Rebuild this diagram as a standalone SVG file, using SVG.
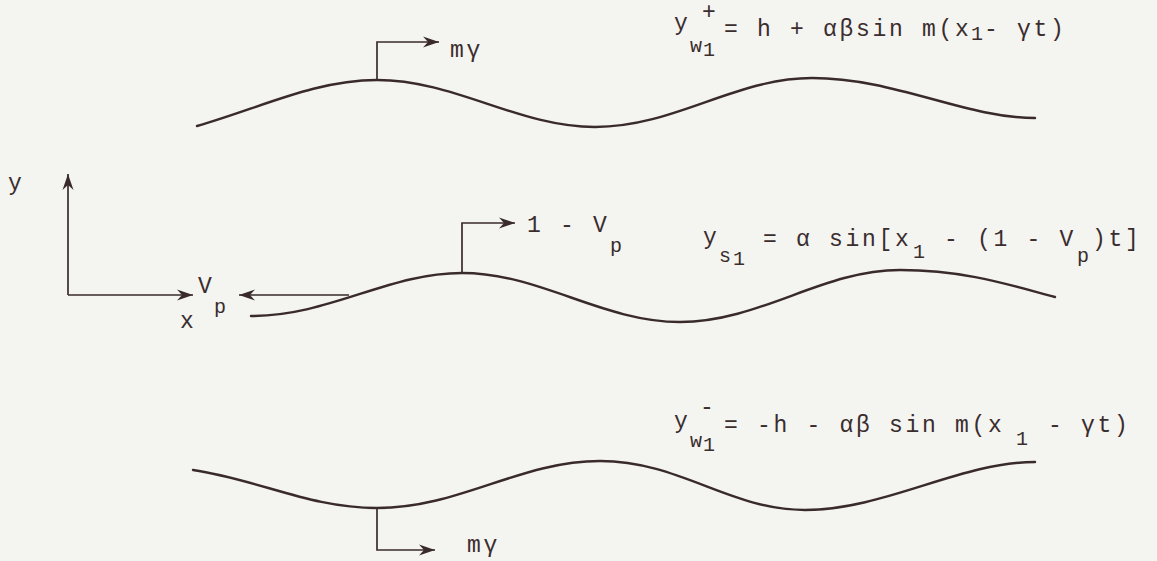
<svg xmlns="http://www.w3.org/2000/svg" width="1157" height="561" viewBox="0 0 1157 561">
<defs>
<marker id="ah" markerUnits="userSpaceOnUse" markerWidth="20" markerHeight="14" refX="16" refY="7" orient="auto">
<path d="M0,1.5 L16,7 L0,12.5 L5,7 Z" fill="#3a2b2b"/>
</marker>
<style>
.t{font-family:"Liberation Mono","Courier New",monospace;font-size:23px;letter-spacing:2.7px;fill:#3a2d2d}
.s{font-family:"Liberation Mono","Courier New",monospace;font-size:20px;fill:#3a2d2d}
.w{fill:none;stroke:#3a2b2b;stroke-width:2.4;stroke-linecap:round}
.a{fill:none;stroke:#3a2b2b;stroke-width:1.7}
</style>
</defs>
<rect width="1157" height="561" fill="#f4f4f1"/>
<g id="connectors">
<path class="a" d="M68,295 V174" marker-end="url(#ah)"/>
<path class="a" d="M68,295 H193" marker-end="url(#ah)"/>
<path class="a" d="M349,295 H239" marker-end="url(#ah)"/>
<path class="a" d="M377,80 V42 H439" marker-end="url(#ah)"/>
<path class="a" d="M462,273 V223 H515" marker-end="url(#ah)"/>
<path class="a" d="M377,508 V550 H435" marker-end="url(#ah)"/>
</g>
<g id="wave-top">
<path class="w" d="M197,126 C260,108 315,80 377,80 C455,80 518,127 595,127 C675,127 735,78 812,78 C895,78 965,118 1035,118"/>
<text class="t" x="450" y="57">mγ</text>
</g>
<g id="wave-mid">
<path class="w" d="M251,316 C330,316 388,273 462,273 C540,273 602,322 680,322 C760,322 822,270 900,270 C965,270 1010,285 1055,297"/>
<text class="t" x="527" y="232">1 - V</text>
<text class="s" x="610" y="252">p</text>
</g>
<g id="wave-bot">
<path class="w" d="M193,470 C260,480 310,508 377,508 C460,508 520,461 600,461 C680,461 730,510 805,510 C885,510 960,462 1035,462"/>
<text class="t" x="467" y="552">mγ</text>
</g>
<g id="axes">
<text class="t" x="8" y="190">y</text>
<text class="t" x="180" y="328">x</text>
<text class="t" x="198" y="293">V</text>
<text class="s" x="214" y="313">p</text>
</g>
<g id="eq-top">
<text class="t" x="674" y="30">y</text>
<text class="t" x="702" y="19">+</text>
<text class="s" x="690" y="52">w</text>
<text class="s" x="703" y="56">1</text>
<text class="t" x="724" y="36">= h + αβsin m(x</text>
<text class="s" x="971" y="40">1</text>
<text class="t" x="984" y="36">- γt)</text>
</g>
<g id="eq-mid">
<text class="t" x="703" y="244">y</text>
<text class="s" x="719" y="262">s</text>
<text class="s" x="733" y="265">1</text>
<text class="t" x="763" y="246">= α sin[x</text>
<text class="s" x="913" y="258">1</text>
<text class="t" x="944" y="246">- (1 - V</text>
<text class="s" x="1077" y="262">p</text>
<text class="t" x="1092" y="246">)t]</text>
</g>
<g id="eq-bot">
<text class="t" x="674" y="428">y</text>
<text class="t" x="700" y="414">-</text>
<text class="s" x="690" y="447">w</text>
<text class="s" x="703" y="451">1</text>
<text class="t" x="724" y="432" letter-spacing="3.3">= -h - αβ sin m(x</text>
<text class="s" x="1016" y="445">1</text>
<text class="t" x="1048" y="432" letter-spacing="3.3">- γt)</text>
</g>
</svg>
